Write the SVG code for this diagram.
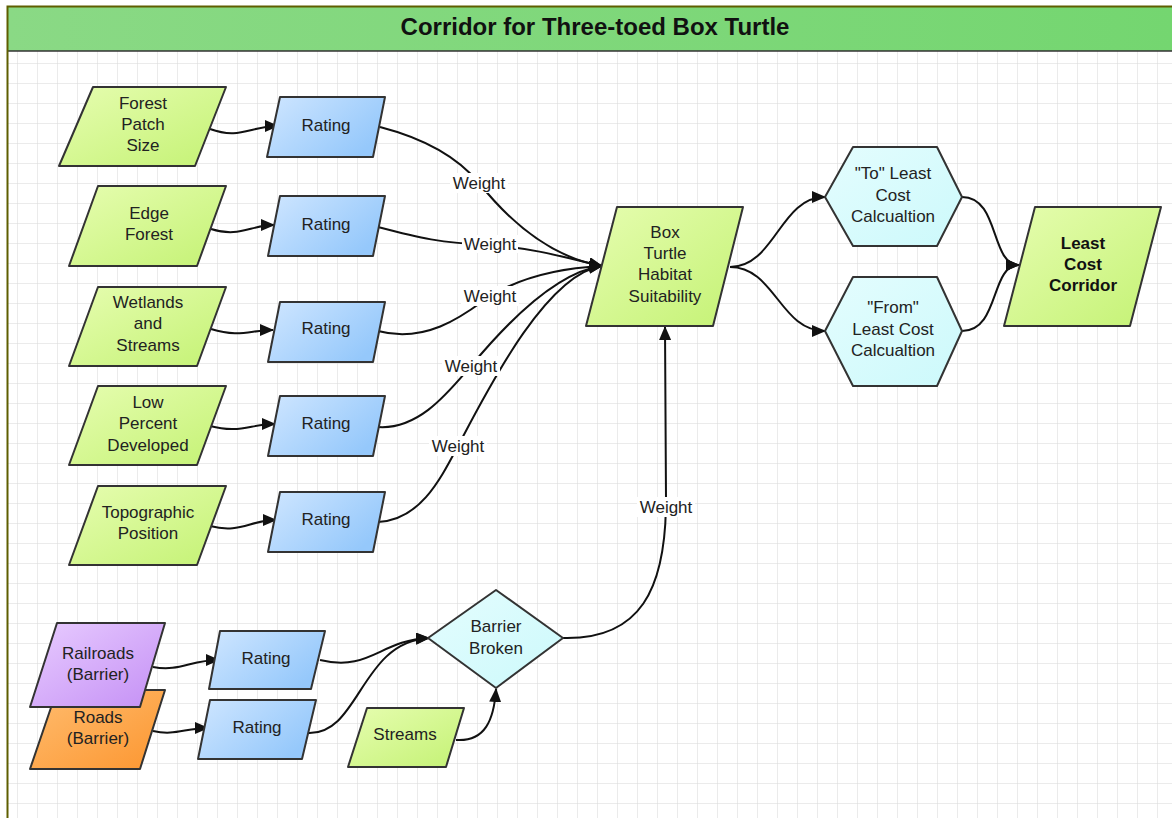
<svg xmlns="http://www.w3.org/2000/svg" width="1172" height="818" viewBox="0 0 1172 818">
<defs>
<pattern id="grid" patternUnits="userSpaceOnUse" x="17" y="3" width="20" height="20">
<path d="M0,0 H20 M0,0 V20" fill="none" stroke="#d8d8d8" stroke-width="1"/>
</pattern>
<linearGradient id="gGreen" x1="0" y1="0" x2="1" y2="1"><stop offset="0" stop-color="#e6fdb0"/><stop offset="1" stop-color="#c4f274"/></linearGradient>
<linearGradient id="gBlue" x1="0" y1="0" x2="1" y2="0.6"><stop offset="0" stop-color="#cfe6ff"/><stop offset="1" stop-color="#95c8fb"/></linearGradient>
<linearGradient id="gPurple" x1="0" y1="0" x2="1" y2="1"><stop offset="0" stop-color="#e8ccff"/><stop offset="1" stop-color="#c48ff5"/></linearGradient>
<linearGradient id="gOrange" x1="0" y1="0" x2="1" y2="1"><stop offset="0" stop-color="#ffbd70"/><stop offset="1" stop-color="#fc9630"/></linearGradient>
<linearGradient id="gCyan" x1="0" y1="0" x2="1" y2="1"><stop offset="0" stop-color="#e4fdfe"/><stop offset="1" stop-color="#ccf9fb"/></linearGradient>
<linearGradient id="gTitle" x1="0" y1="0" x2="1" y2="0"><stop offset="0" stop-color="#8ad985"/><stop offset="1" stop-color="#74d670"/></linearGradient>
<marker id="arr" markerUnits="userSpaceOnUse" markerWidth="14" markerHeight="12" refX="13" refY="6" orient="auto">
<path d="M0,0 L14,6 L0,12 Z" fill="#111"/>
</marker>
</defs>
<style>
.n{stroke:#333;stroke-width:2;stroke-linejoin:round}
.t{font-family:"Liberation Sans",Arial,sans-serif;font-size:17px;fill:#222;text-anchor:middle}
.b{font-weight:bold;fill:#111}
.c{fill:none;stroke:#111;stroke-width:2}
.lb{fill:#fff}
</style>
<rect x="0" y="0" width="1172" height="818" fill="#fff"/>
<rect x="8" y="51" width="1164" height="767" fill="url(#grid)"/>
<rect x="8" y="7" width="1164" height="44" fill="url(#gTitle)"/>
<line x1="8" y1="51" x2="1172" y2="51" stroke="#333" stroke-width="1.5"/>
<path d="M7.5,818 V6.5 H1172" fill="none" stroke="#5e5e00" stroke-width="2"/>
<text x="595" y="35" class="t b" style="font-size:24px">Corridor for Three-toed Box Turtle</text>

<g id="connectors">
<path class="c" marker-end="url(#arr)" d="M210,129 C240,140 250,126 278,126"/>
<path class="c" marker-end="url(#arr)" d="M211,229 C240,238 250,225 274,225"/>
<path class="c" marker-end="url(#arr)" d="M211,329 C240,338 250,330 273,330"/>
<path class="c" marker-end="url(#arr)" d="M210,426 C240,434 250,424 275,424"/>
<path class="c" marker-end="url(#arr)" d="M210,526 C240,534 250,520 276,520"/>

<path class="c" marker-end="url(#arr)" d="M380,127 C430,140 460,160 479,183 C515,228 555,258 602,266"/>
<path class="c" marker-end="url(#arr)" d="M378,227 C420,238 440,243 490,245 C540,249 570,259 602,266"/>
<path class="c" marker-end="url(#arr)" d="M378,331 C430,345 470,310 490,296 C520,278 560,268 602,266"/>
<path class="c" marker-end="url(#arr)" d="M378,427 C420,430 450,390 471,366 C505,325 555,272 602,266"/>
<path class="c" marker-end="url(#arr)" d="M378,522 C420,520 440,480 458,446 C485,395 545,274 602,266"/>

<path class="c" marker-end="url(#arr)" d="M730,267 C775,267 780,197 825,197"/>
<path class="c" marker-end="url(#arr)" d="M730,267 C775,267 780,331 825,331"/>
<path class="c" marker-end="url(#arr)" d="M962,197 C1000,197 990,265 1019,265"/>
<path class="c" marker-end="url(#arr)" d="M962,331 C1000,331 990,265 1019,265"/>

<path class="c" marker-end="url(#arr)" d="M563,638 C640,640 666,590 666,500 L665,327"/>

<path class="c" marker-end="url(#arr)" d="M153,667 C180,672 190,660 219,660"/>
<path class="c" marker-end="url(#arr)" d="M153,731 C175,736 185,728 208,728"/>
<path class="c" marker-end="url(#arr)" d="M320,660 C370,672 380,640 429,638"/>
<path class="c" marker-end="url(#arr)" d="M308,733 C360,735 360,642 429,638"/>
<path class="c" marker-end="url(#arr)" d="M456,740 C485,742 494,720 496,689"/>

<g id="labels">
<rect class="lb" x="450" y="173" width="58" height="20"/><text class="t" x="479" y="189">Weight</text>
<rect class="lb" x="462" y="235" width="56" height="18"/><text class="t" x="490" y="250">Weight</text>
<rect class="lb" x="461" y="286" width="58" height="20"/><text class="t" x="490" y="302">Weight</text>
<rect class="lb" x="442" y="356" width="58" height="20"/><text class="t" x="471" y="372">Weight</text>
<rect class="lb" x="429" y="436" width="58" height="20"/><text class="t" x="458" y="452">Weight</text>
<rect class="lb" x="637" y="497" width="58" height="20"/><text class="t" x="666" y="513">Weight</text>
</g>
</g>

<g id="forest-patch"><path class="n" fill="url(#gGreen)" d="M93,87 L226,87 L195,166 L59,166 Z"/><text class="t" x="143" y="109">Forest</text><text class="t" x="143" y="130">Patch</text><text class="t" x="143" y="151">Size</text></g>
<g id="edge-forest"><path class="n" fill="url(#gGreen)" d="M98,186 L226,186 L197,266 L69,266 Z"/><text class="t" x="149" y="219">Edge</text><text class="t" x="149" y="240">Forest</text></g>
<g id="wetlands"><path class="n" fill="url(#gGreen)" d="M98,287 L226,287 L197,366 L69,366 Z"/><text class="t" x="148" y="308">Wetlands</text><text class="t" x="148" y="329">and</text><text class="t" x="148" y="351">Streams</text></g>
<g id="low-percent"><path class="n" fill="url(#gGreen)" d="M98,386 L226,386 L197,465 L69,465 Z"/><text class="t" x="148" y="408">Low</text><text class="t" x="148" y="429">Percent</text><text class="t" x="148" y="451">Developed</text></g>
<g id="topographic"><path class="n" fill="url(#gGreen)" d="M98,486 L226,486 L197,565 L69,565 Z"/><text class="t" x="148" y="518">Topographic</text><text class="t" x="148" y="539">Position</text></g>

<g id="rating1"><path class="n" fill="url(#gBlue)" d="M280,97 L385,97 L373,157 L267,157 Z"/><text class="t" x="326" y="131">Rating</text></g>
<g id="rating2"><path class="n" fill="url(#gBlue)" d="M280,196 L385,196 L373,256 L268,256 Z"/><text class="t" x="326" y="230">Rating</text></g>
<g id="rating3"><path class="n" fill="url(#gBlue)" d="M280,302 L385,302 L373,362 L268,362 Z"/><text class="t" x="326" y="334">Rating</text></g>
<g id="rating4"><path class="n" fill="url(#gBlue)" d="M280,396 L385,396 L373,456 L268,456 Z"/><text class="t" x="326" y="429">Rating</text></g>
<g id="rating5"><path class="n" fill="url(#gBlue)" d="M280,492 L385,492 L373,552 L268,552 Z"/><text class="t" x="326" y="525">Rating</text></g>

<g id="box-turtle"><path class="n" fill="url(#gGreen)" d="M617,207 L743,207 L713,326 L586,326 Z"/><text class="t" x="665" y="238">Box</text><text class="t" x="665" y="259">Turtle</text><text class="t" x="665" y="280">Habitat</text><text class="t" x="665" y="302">Suitability</text></g>

<g id="to-calc"><path class="n" fill="url(#gCyan)" d="M853,147 L937,147 L962,197 L937,246 L853,246 L825,197 Z"/><text class="t" x="893" y="179">"To" Least</text><text class="t" x="893" y="201">Cost</text><text class="t" x="893" y="222">Calcualtion</text></g>
<g id="from-calc"><path class="n" fill="url(#gCyan)" d="M853,277 L937,277 L962,331 L937,386 L853,386 L825,331 Z"/><text class="t" x="893" y="313">"From"</text><text class="t" x="893" y="335">Least Cost</text><text class="t" x="893" y="356">Calcualtion</text></g>

<g id="least-cost-corridor"><path class="n" fill="url(#gGreen)" d="M1035,207 L1161,207 L1130,326 L1004,326 Z"/><text class="t b" x="1083" y="249">Least</text><text class="t b" x="1083" y="270">Cost</text><text class="t b" x="1083" y="291">Corridor</text></g>

<g id="roads"><path class="n" fill="url(#gOrange)" d="M57,690 L165,690 L140,769 L30,769 Z"/><text class="t" x="98" y="723">Roads</text><text class="t" x="98" y="744">(Barrier)</text></g>
<g id="railroads"><path class="n" fill="url(#gPurple)" d="M57,623 L165,623 L140,707 L30,707 Z"/><text class="t" x="98" y="659">Railroads</text><text class="t" x="98" y="680">(Barrier)</text></g>

<g id="rating-rail"><path class="n" fill="url(#gBlue)" d="M220,631 L325,631 L311,689 L209,689 Z"/><text class="t" x="266" y="664">Rating</text></g>
<g id="rating-roads"><path class="n" fill="url(#gBlue)" d="M210,700 L316,700 L302,759 L198,759 Z"/><text class="t" x="257" y="733">Rating</text></g>
<g id="streams"><path class="n" fill="url(#gGreen)" d="M367,708 L464,708 L446,767 L348,767 Z"/><text class="t" x="405" y="740">Streams</text></g>
<g id="barrier-broken"><path class="n" fill="url(#gCyan)" d="M496,590 L563,638 L496,688 L428,638 Z"/><text class="t" x="496" y="632">Barrier</text><text class="t" x="496" y="654">Broken</text></g>
</svg>
